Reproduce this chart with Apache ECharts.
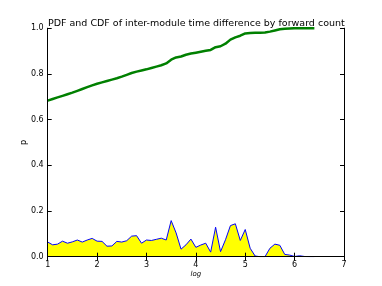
<!DOCTYPE html>
<html><head><meta charset="utf-8">
<script src="https://cdn.jsdelivr.net/npm/echarts@6/dist/echarts.min.js"></script>
<style>html,body{margin:0;padding:0;background:#fff}#c{width:382px;height:286px}</style>
</head><body><div id="c"></div>
<script>
var xs = [1.0,1.1,1.2,1.3,1.4,1.5,1.6,1.7,1.8,1.9,2.0,2.1,2.2,2.3,2.4,2.5,2.6,2.7,2.8,2.9,3.0,3.1,3.2,3.3,3.4,3.5,3.6,3.7,3.8,3.9,4.0,4.1,4.2,4.3,4.4,4.5,4.6,4.7,4.8,4.9,5.0,5.1,5.2,5.3,5.4,5.5,5.6,5.7,5.8,5.9,6.0,6.1,6.2,6.3,6.4];
var pdf = [0.064,0.052,0.055,0.068,0.059,0.065,0.073,0.064,0.073,0.080,0.068,0.067,0.046,0.047,0.067,0.064,0.070,0.090,0.092,0.059,0.073,0.071,0.076,0.081,0.073,0.158,0.104,0.033,0.052,0.077,0.041,0.051,0.059,0.020,0.129,0.022,0.074,0.136,0.144,0.071,0.119,0.037,0.003,0,0,0.037,0.055,0.050,0.010,0.007,0.001,0.004,0.001,0,0];
var cdf = [0.683,0.690,0.697,0.704,0.711,0.718,0.726,0.734,0.742,0.750,0.757,0.763,0.769,0.775,0.781,0.788,0.796,0.804,0.810,0.815,0.820,0.826,0.832,0.838,0.846,0.862,0.872,0.876,0.884,0.889,0.893,0.897,0.901,0.905,0.917,0.921,0.932,0.950,0.960,0.967,0.977,0.979,0.980,0.980,0.981,0.985,0.990,0.995,0.998,0.999,1.0,1.0,1.0,1.0,1.0];
var xTicks = [1,2,3,4,5,6,7];
var yTicks = [0.0,0.2,0.4,0.6,0.8,1.0];
var titleText = 'PDF and CDF of inter-module time difference by forward count';

function pairs(ys){ return xs.map(function(x,i){ return [x, ys[i]]; }); }
var font = 'DejaVu Sans';
var chart = echarts.init(document.getElementById('c'), null, {renderer:'canvas'});
var axLine = {show:true, lineStyle:{color:'#000', width:1}};
var tick = {show:true, inside:true, length:4, lineStyle:{color:'#000', width:1}};
chart.setOption({
  animation:false,
  backgroundColor:'#fff',
  title:{text:titleText, left:43, top:14, textStyle:{fontFamily:font, fontSize:9.5, fontWeight:'normal', color:'#000'}},
  grid:{left:47.7, right:38, top:28.2, bottom:29.3, show:false},
  xAxis:[
    {type:'value', min:1, max:7, interval:1, position:'bottom', z:10, axisLine:axLine, axisTick:tick,
     splitLine:{show:false}, axisLabel:{fontFamily:font, fontSize:8, color:'#000', margin:4,
     formatter:function(v){ return xTicks.indexOf(v)>=0 ? String(v) : ''; }},
     name:'log', nameLocation:'middle', nameGap:14, nameMoveOverlap:false, nameTextStyle:{fontFamily:font, fontSize:7, fontStyle:'italic', color:'#000'}},
    {type:'value', min:1, max:7, interval:1, position:'top', z:10, axisLine:axLine, axisTick:tick, splitLine:{show:false}, axisLabel:{show:false}}
  ],
  yAxis:[
    {type:'value', min:0, max:1, interval:0.2, position:'left', z:10, axisLine:axLine, axisTick:tick,
     splitLine:{show:false}, axisLabel:{fontFamily:font, fontSize:8, color:'#000', margin:4,
     formatter:function(v){ return v.toFixed(1); }},
     name:'p', nameLocation:'middle', nameGap:20, nameMoveOverlap:false, nameRotate:90, nameTextStyle:{fontFamily:font, fontSize:8, color:'#000'}},
    {type:'value', min:0, max:1, interval:0.2, position:'right', z:10, axisLine:axLine, axisTick:tick, splitLine:{show:false}, axisLabel:{show:false}}
  ],
  series:[
    {type:'line', data:pairs(pdf), symbol:'none', lineStyle:{color:'#0000ff', width:1}, areaStyle:{color:'#ffff00', opacity:1}, z:2},
    {type:'line', data:pairs(cdf), symbol:'none', lineStyle:{color:'#008000', width:2.5}, z:3}
  ]
});
</script></body></html>
